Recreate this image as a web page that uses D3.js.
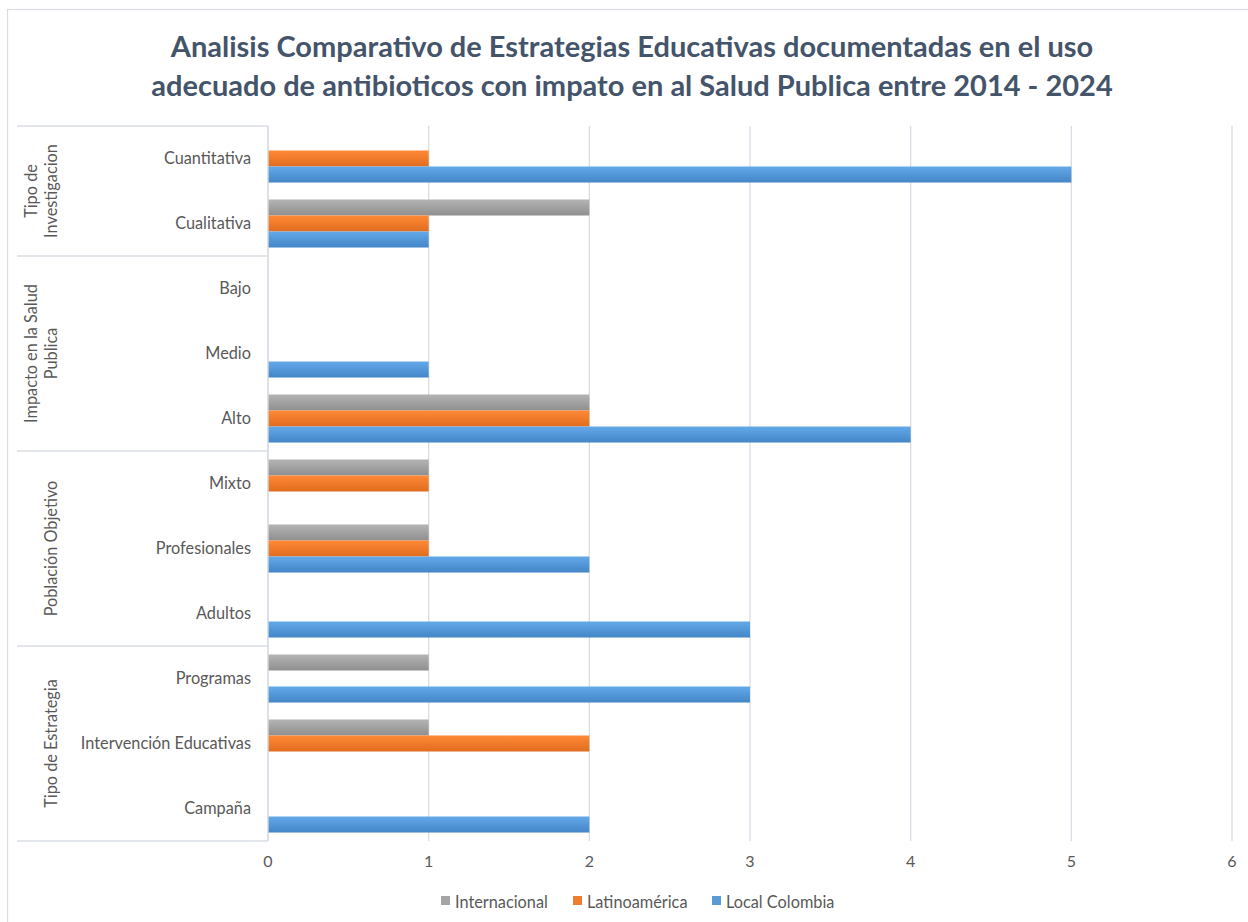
<!DOCTYPE html>
<html>
<head>
<meta charset="utf-8">
<script src="https://cdn.jsdelivr.net/npm/d3@7"></script>
<style>
  body { margin: 0; background: #fff; }
  svg text { font-family: Lato, "Open Sans", sans-serif; }
</style>
</head>
<body>
<div id="chart"></div>
<script>
const titleLines = ["Analisis Comparativo de Estrategias Educativas documentadas en el uso",
  "adecuado de antibioticos con impato en al Salud Publica entre 2014 - 2024"];

// categories top to bottom, with their group
const categories = ["Cuantitativa", "Cualitativa", "Bajo", "Medio", "Alto", "Mixto",
  "Profesionales", "Adultos", "Programas", "Intervención Educativas", "Campaña"];
const groups = [
  { name: ["Tipo de", "Investigacion"], items: ["Cuantitativa", "Cualitativa"] },
  { name: ["Impacto en la Salud", "Publica"], items: ["Bajo", "Medio", "Alto"] },
  { name: ["Población Objetivo"], items: ["Mixto", "Profesionales", "Adultos"] },
  { name: ["Tipo de Estrategia"], items: ["Programas", "Intervención Educativas", "Campaña"] }
];

const series = ["Internacional", "Latinoamérica", "Local Colombia"];
const internacional = [0, 2, 0, 0, 2, 1, 1, 0, 1, 1, 0];
const latinoamerica = [1, 1, 0, 0, 2, 1, 1, 0, 0, 2, 0];
const localColombia = [5, 1, 0, 1, 4, 0, 2, 3, 3, 0, 2];
const xTicks = [0, 1, 2, 3, 4, 5, 6];

const colors = ["#A5A5A5", "#ED7D31", "#5B9BD5"];
const darker = ["#8f8f8f", "#e06c1f", "#4486c7"];

const width = 1248, height = 922;
const svg = d3.select("#chart").append("svg")
  .attr("width", width)
  .attr("height", height);

// gradients like the excel bars
let defs = svg.append("defs");
colors.forEach((c, i) => {
  let g = defs.append("linearGradient")
    .attr("id", "grad" + i)
    .attr("x1", 0).attr("y1", 0).attr("x2", 0).attr("y2", 1);
  g.append("stop").attr("offset", "0%").attr("stop-color", d3.color(c).brighter(0.25));
  g.append("stop").attr("offset", "100%").attr("stop-color", darker[i]);
});

// chart border
svg.append("rect")
  .attr("x", 7.5).attr("y", 9.5)
  .attr("width", 1260).attr("height", 940)
  .attr("fill", "none")
  .attr("stroke", "#D9DDE3")
  .attr("stroke-width", 1.2);

// title
svg.append("g").selectAll("text")
  .data(titleLines)
  .join("text")
  .attr("x", 632)
  .attr("y", (d, i) => 57 + i * 39)
  .attr("text-anchor", "middle")
  .attr("font-size", 29)
  .attr("font-weight", "bold")
  .attr("fill", "#44546A")
  .text(d => d);

const x = d3.scaleLinear().domain([0, 6]).range([268, 1232]);
const y = d3.scaleBand().domain(categories).range([126, 841]);
const ySub = d3.scaleBand().domain(series).range([0, y.bandwidth()]).paddingOuter(0.53);

// gridlines
svg.append("g").selectAll("line")
  .data(xTicks)
  .join("line")
  .attr("x1", d => x(d)).attr("x2", d => x(d))
  .attr("y1", 126).attr("y2", 841)
  .attr("stroke", "#D9DDE3")
  .attr("stroke-width", 1.3);

// x tick labels
svg.append("g").selectAll("text")
  .data(xTicks)
  .join("text")
  .attr("x", d => x(d))
  .attr("y", 867)
  .attr("text-anchor", "middle")
  .attr("font-size", 16)
  .attr("fill", "#595959")
  .text(d => d);

// bars
const values = [internacional, latinoamerica, localColombia];
const rows = [];
categories.forEach((c, i) => {
  series.forEach((s, j) => rows.push({ cat: c, s: s, j: j, v: values[j][i] }));
});
svg.append("g").selectAll("rect")
  .data(rows.filter(d => d.v > 0))
  .join("rect")
  .attr("x", x(0))
  .attr("y", d => y(d.cat) + ySub(d.s))
  .attr("width", d => x(d.v) - x(0))
  .attr("height", ySub.bandwidth())
  .attr("fill", d => `url(#grad${d.j})`);

// category labels
svg.append("g").selectAll("text")
  .data(categories)
  .join("text")
  .attr("x", 251)
  .attr("y", d => y(d) + y.bandwidth() / 2 + 5)
  .attr("text-anchor", "end")
  .attr("font-size", 16.3)
  .attr("fill", "#595959")
  .text(d => d);

// group separators + group labels
let sepY = [126];
groups.forEach(g => sepY.push(y(g.items[g.items.length - 1]) + y.bandwidth()));
svg.append("g").selectAll("line")
  .data(sepY)
  .join("line")
  .attr("x1", 17).attr("x2", 268)
  .attr("y1", d => d).attr("y2", d => d)
  .attr("stroke", "#D9DDE3")
  .attr("stroke-width", 1.3);

svg.append("line")
  .attr("x1", 268).attr("x2", 268)
  .attr("y1", 126).attr("y2", 841)
  .attr("stroke", "#D9DDE3")
  .attr("stroke-width", 1.3);

groups.forEach(g => {
  let top = y(g.items[0]);
  let bottom = y(g.items[g.items.length - 1]) + y.bandwidth();
  let cy = (top + bottom) / 2;
  let n = g.name.length;
  let t = svg.append("text")
    .attr("transform", `translate(${n > 1 ? 37 : 57},${cy}) rotate(-90)`)
    .attr("text-anchor", "middle")
    .attr("font-size", 16.3)
    .attr("fill", "#595959");
  g.name.forEach((line, i) => {
    t.append("tspan")
      .attr("x", 0)
      .attr("dy", i == 0 ? 0 : 20)
      .text(line);
  });
});

// legend
const legendX = [441, 573, 712];
const legend = svg.append("g").selectAll("g")
  .data(series)
  .join("g")
  .attr("transform", (d, i) => `translate(${legendX[i]},902)`);
legend.append("rect")
  .attr("x", 0).attr("y", -6)
  .attr("width", 9).attr("height", 9)
  .attr("fill", (d, i) => colors[i]);
legend.append("text")
  .attr("x", 14).attr("y", 5.5)
  .attr("font-size", 16.3)
  .attr("fill", "#595959")
  .text(d => d);
</script>
</body>
</html>
